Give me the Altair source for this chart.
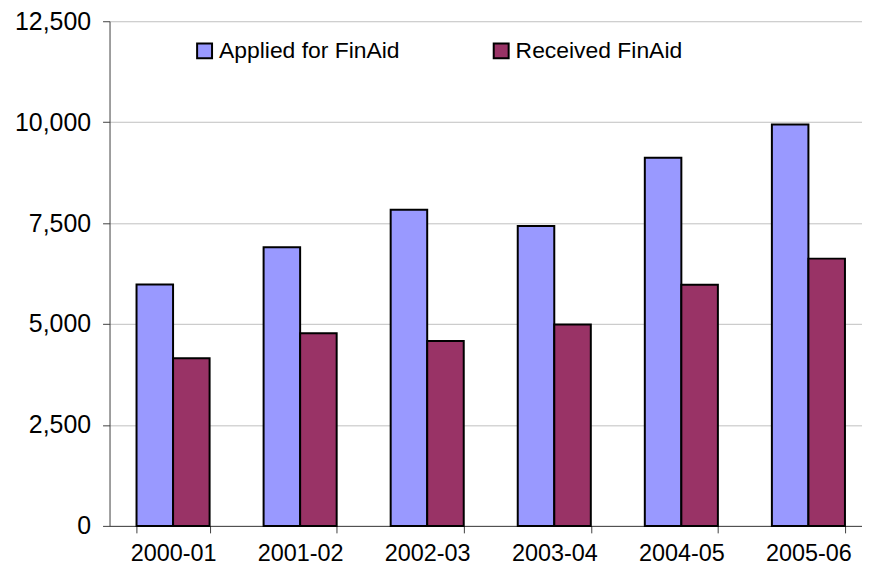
import altair as alt
import pandas as pd

years = ["2000-01", "2001-02", "2002-03", "2003-04", "2004-05", "2005-06"]
applied = [5980, 6900, 7830, 7430, 9120, 9940]
received = [4150, 4770, 4580, 4990, 5970, 6620]
series = ["Applied for FinAid", "Received FinAid"]
colors = ["#9999FF", "#993366"]
y_ticks = [0, 2500, 5000, 7500, 10000, 12500]

rows = []
for i, yr in enumerate(years):
    rows.append({"year": yr, "series": series[0], "value": applied[i]})
    rows.append({"year": yr, "series": series[1], "value": received[i]})
df = pd.DataFrame(rows)

font = "Liberation Sans"

chart = alt.Chart(df).mark_bar(stroke="black", strokeWidth=2).encode(
    x=alt.X(
        "year:N", sort=years, title=None,
        scale=alt.Scale(paddingInner=0.425, paddingOuter=0.2125, range=[0, 766]),
        axis=alt.Axis(labelAngle=0, tickBand="extent", tickSize=7, labelFontSize=23.5,
                      labelPadding=9, domainColor="#404040", tickColor="#404040",
                      labelColor="black", labelFont=font, grid=False),
    ),
    xOffset=alt.XOffset("series:N", sort=series),
    y=alt.Y(
        "value:Q", title=None,
        scale=alt.Scale(domain=[0, 12500], nice=False),
        axis=alt.Axis(values=y_ticks, format=",.0f", tickSize=7, labelFontSize=25,
                      labelPadding=12, labelColor="black", labelFont=font,
                      domainColor="#404040", tickColor="#404040",
                      grid=True, gridColor="#c0c0c0", gridWidth=1),
    ),
    color=alt.Color(
        "series:N", sort=series,
        scale=alt.Scale(domain=series, range=colors),
        legend=alt.Legend(title=None, orient="none", legendX=84, legendY=18,
                          direction="horizontal", symbolType="square", symbolSize=225,
                          symbolStrokeColor="black", symbolStrokeWidth=2,
                          labelFontSize=23, labelFont=font, labelColor="black",
                          labelLimit=400, columnPadding=90, labelOffset=3),
    ),
).properties(
    width=756, height=507,
    autosize=alt.AutoSizeParams(type="none"),
    padding={"left": 102, "top": 12, "right": 0, "bottom": 40},
).configure_view(stroke=None)

chart.save("out.html", embed_options={"renderer": "svg", "actions": False})
